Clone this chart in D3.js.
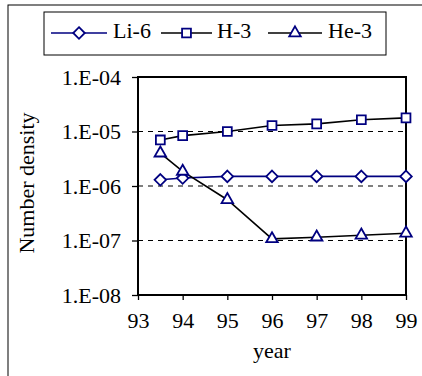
<!DOCTYPE html>
<html><head><meta charset="utf-8">
<script src="https://cdn.jsdelivr.net/npm/d3@7"></script>
<style>body{margin:0;background:#fff}svg{display:block}svg text{font-family:"Liberation Serif","Times New Roman",serif !important}</style>
</head><body><svg id="c" width="422" height="376"></svg>
<script>
const years = [93.5, 94, 95, 96, 97, 98, 99];
const li6 = [1.3e-6, 1.4e-6, 1.5e-6, 1.5e-6, 1.5e-6, 1.5e-6, 1.5e-6];
const h3 = [7.0e-6, 8.4e-6, 1.0e-5, 1.29e-5, 1.38e-5, 1.64e-5, 1.78e-5];
const he3 = [4.0e-6, 1.85e-6, 5.6e-7, 1.07e-7, 1.15e-7, 1.25e-7, 1.36e-7];
const xTicks = [93, 94, 95, 96, 97, 98, 99];
const yTicks = [1e-8, 1e-7, 1e-6, 1e-5, 1e-4];
const yTickLabels = ["1.E-08", "1.E-07", "1.E-06", "1.E-05", "1.E-04"];
const seriesNames = ["Li-6", "H-3", "He-3"];

const navy = "#000080";
const FS = 22;
const svg = d3.select("#c");
const L = 138, R = 406, T = 77, B = 295;
const x = d3.scaleLinear().domain([93, 99]).range([L, R]);
const y = d3.scaleLog().domain([1e-8, 1e-4]).range([B, T]);

svg.append("rect").attr("x", 8).attr("y", 5).attr("width", 430).attr("height", 390)
  .attr("fill", "none").attr("stroke", "#000").attr("stroke-width", 1);

svg.append("g").selectAll("line").data(yTicks.slice(1, 4)).join("line")
  .attr("x1", L).attr("x2", R).attr("y1", d => y(d)).attr("y2", d => y(d))
  .attr("stroke", "#000").attr("stroke-width", 1).attr("stroke-dasharray", "5,5");

const yAxis = d3.axisLeft(y).tickValues(yTicks).tickFormat((d, i) => yTickLabels[i]).tickSize(6).tickPadding(11);
const gy = svg.append("g").attr("transform", `translate(${L},0)`).call(yAxis);
const xAxis = d3.axisBottom(x).tickValues(xTicks).tickFormat(d3.format("d")).tickSize(5).tickPadding(12.5);
const gx = svg.append("g").attr("transform", `translate(0,${B})`).call(xAxis);
[gx, gy].forEach(g => {
  g.attr("font-family", "Liberation Serif").attr("font-size", FS);
  g.select(".domain").remove();
  g.selectAll("line").attr("stroke", "#000").attr("stroke-width", 1.3);
  g.selectAll("text").attr("fill", "#000");
});

svg.append("rect").attr("x", L).attr("y", T).attr("width", R - L).attr("height", B - T)
  .attr("fill", "none").attr("stroke", "#000").attr("stroke-width", 2);

svg.append("text").attr("x", 272).attr("y", 358).attr("text-anchor", "middle")
  .attr("font-size", FS).text("year");
svg.append("text").attr("transform", `translate(33.5,183) rotate(-90)`)
  .attr("text-anchor", "middle").attr("font-size", FS).text("Number density");

const sym = {
  "Li-6": d3.symbol().type(d3.symbolDiamond2).size(85),
  "H-3": d3.symbol().type(d3.symbolSquare2).size(100),
  "He-3": d3.symbol().type(d3.symbolTriangle2).size(95)
};
const lineColor = {"Li-6": navy, "H-3": "#000", "He-3": "#000"};
const data = {"Li-6": li6, "H-3": h3, "He-3": he3};
const line = d3.line().x(d => x(d[0])).y(d => y(d[1]));

seriesNames.forEach(name => {
  const pts = years.map((yr, i) => [yr, data[name][i]]);
  svg.append("path").datum(pts).attr("d", line).attr("fill", "none")
    .attr("stroke", lineColor[name]).attr("stroke-width", 1.6);
});
seriesNames.forEach(name => {
  const pts = years.map((yr, i) => [yr, data[name][i]]);
  svg.append("g").selectAll("path").data(pts).join("path")
    .attr("transform", d => `translate(${x(d[0])},${y(d[1])})`)
    .attr("d", sym[name]()).attr("fill", "#fff").attr("stroke", navy).attr("stroke-width", 1.8);
});

svg.append("rect").attr("x", 44).attr("y", 12).attr("width", 342).attr("height", 43)
  .attr("fill", "#fff").attr("stroke", "#000").attr("stroke-width", 1);
const leg = [{n: "Li-6", x0: 51, x1: 107, tx: 113}, {n: "H-3", x0: 161, x1: 212, tx: 217}, {n: "He-3", x0: 268, x1: 322, tx: 328}];
leg.forEach(l => {
  svg.append("line").attr("x1", l.x0).attr("x2", l.x1).attr("y1", 33).attr("y2", 33)
    .attr("stroke", lineColor[l.n]).attr("stroke-width", 1.6);
  svg.append("path").attr("transform", `translate(${(l.x0 + l.x1) / 2},33)`)
    .attr("d", sym[l.n]()).attr("fill", "#fff").attr("stroke", navy).attr("stroke-width", 1.8);
  svg.append("text").attr("x", l.tx).attr("y", 37.5).attr("font-size", FS).text(l.n);
});
</script></body></html>
